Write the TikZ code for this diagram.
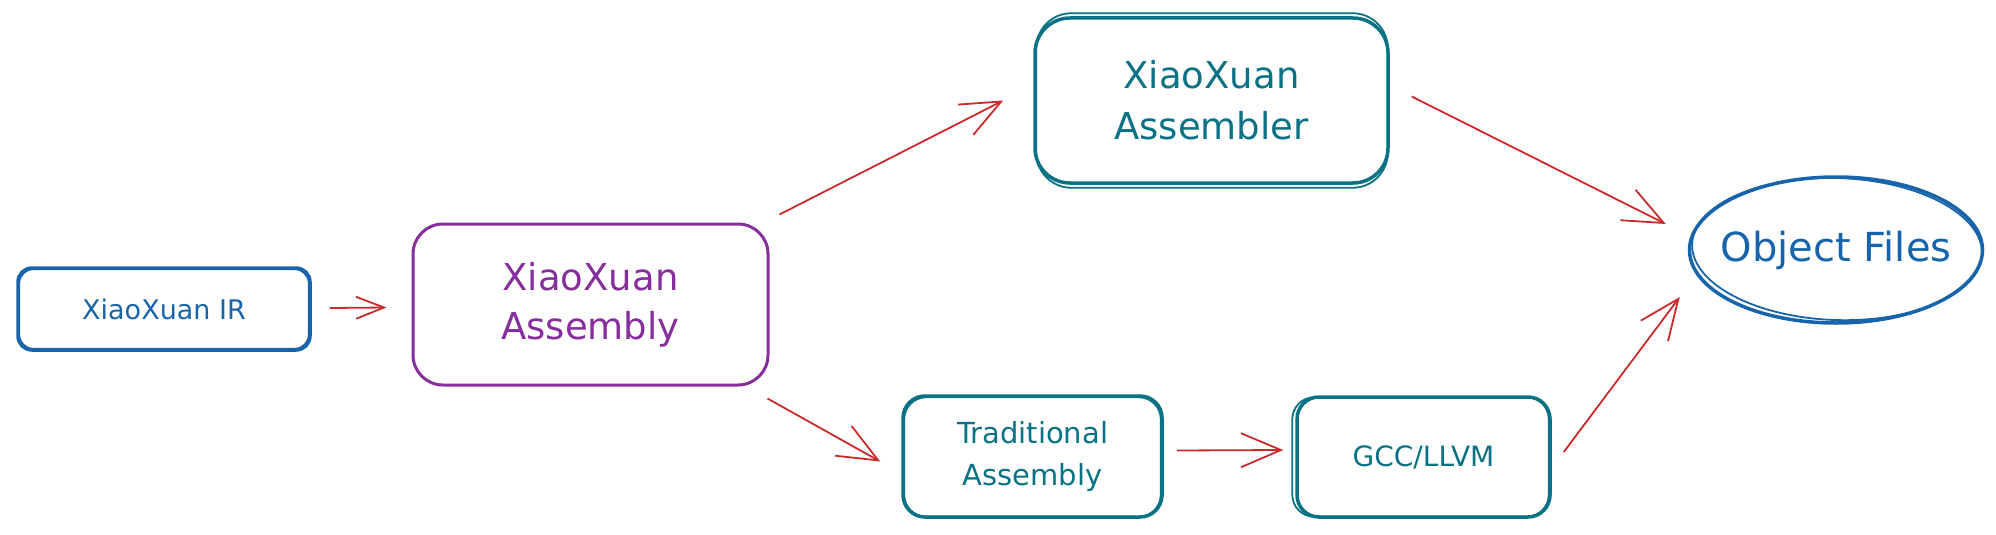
\documentclass[tikz,border=0pt]{standalone}
\usepackage{fontspec}
\setmainfont{DejaVu Sans}
\usetikzlibrary{arrows.meta,shapes.geometric}
\definecolor{cblue}{HTML}{1864AB}
\definecolor{cpurple}{HTML}{862E9C}
\definecolor{cteal}{HTML}{0B7285}
\definecolor{cred}{HTML}{C92A2A}
\begin{document}
\begin{tikzpicture}[x=1pt,y=-1pt,
 box/.style={draw,line width=3.5pt,rounded corners=#1,inner sep=0pt,align=center},
 box/.default=20pt,
 conn/.style={draw=cred,line width=1.8pt,-{Straight Barb[length=40pt,width=34pt,line width=1.8pt]}},
 connsmall/.style={draw=cred,line width=1.8pt,-{Straight Barb[length=28pt,width=22pt,line width=1.8pt]}},
 sk/.style={line width=1.8pt}]
\useasboundingbox (0,0) rectangle (1996,535);

% nodes
\node[box=14pt,draw=cblue,text=cblue,minimum width=292pt,minimum height=82pt,
      font=\fontsize{27}{32}\selectfont] (ir) at (164,309) {XiaoXuan IR};
\node[box=30pt,draw=cpurple,line width=3pt,text=cpurple,minimum width=355pt,minimum height=161pt,
      font=\fontsize{37}{49}\selectfont] (asm) at (590.5,304.5) {XiaoXuan\\Assembly};
\node[box=35pt,draw=cteal,text=cteal,minimum width=353pt,minimum height=165pt,
      font=\fontsize{37}{51}\selectfont] (asmr) at (1211.5,100.5) {XiaoXuan\\Assembler};
\node[ellipse,draw=cblue,line width=3.5pt,inner xsep=-40pt,inner ysep=0pt,text=cblue,minimum width=293pt,minimum height=146pt,
      font=\fontsize{40}{46}\selectfont] (obj) at (1836,250) {Object Files};
\node[box=22pt,draw=cteal,text=cteal,minimum width=259pt,minimum height=121pt,
      font=\fontsize{29}{42}\selectfont] (trad) at (1032.5,456.5) {Traditional\\Assembly};
\node[box=22pt,draw=cteal,text=cteal,minimum width=253pt,minimum height=120pt,
      font=\fontsize{28}{32}\selectfont] (gcc) at (1423.5,457) {GCC/LLVM};

% sketchy second strokes
\draw[cblue,sk,rounded corners=14pt] ([shift={(3,3)}]ir.north west) rectangle ([shift={(-3,-3)}]ir.south east);
\draw[cteal,sk,rounded corners=35pt] ([shift={(3,-3)}]asmr.north west) rectangle ([shift={(-2,3)}]asmr.south east);
\draw[cteal,sk,rounded corners=22pt] ([shift={(3,3)}]trad.north west) rectangle ([shift={(-3,-2)}]trad.south east);
\draw[cteal,sk,rounded corners=22pt] ([shift={(-3,2)}]gcc.north west) rectangle ([shift={(-3,-2)}]gcc.south east);
\draw[cblue,sk,rotate around={-2:(obj.center)}] ([shift={(1,-1)}]obj.center) ellipse [x radius=145pt, y radius=71pt];

% connectors
\draw[connsmall] ([shift={(18,-1)}]ir.east) -- ([shift={(-25,3)}]asm.west);
\draw[conn] ([shift={(10,-8)}]asm.north east) -- ([shift={(-30,0)}]asmr.west);
\draw[conn] ([shift={(22,-4)}]asmr.east) -- ([shift={(-22,-26)}]obj.west);
\draw[conn] ([shift={(-2,12)}]asm.south east) -- ([shift={(-21,5)}]trad.west);
\draw[conn] ([shift={(13,-6)}]trad.east) -- ([shift={(-12,-7)}]gcc.west);
\draw[conn] ([shift={(12,-5)}]gcc.east) -- ([shift={(-8,47)}]obj.west);
\end{tikzpicture}
\end{document}
